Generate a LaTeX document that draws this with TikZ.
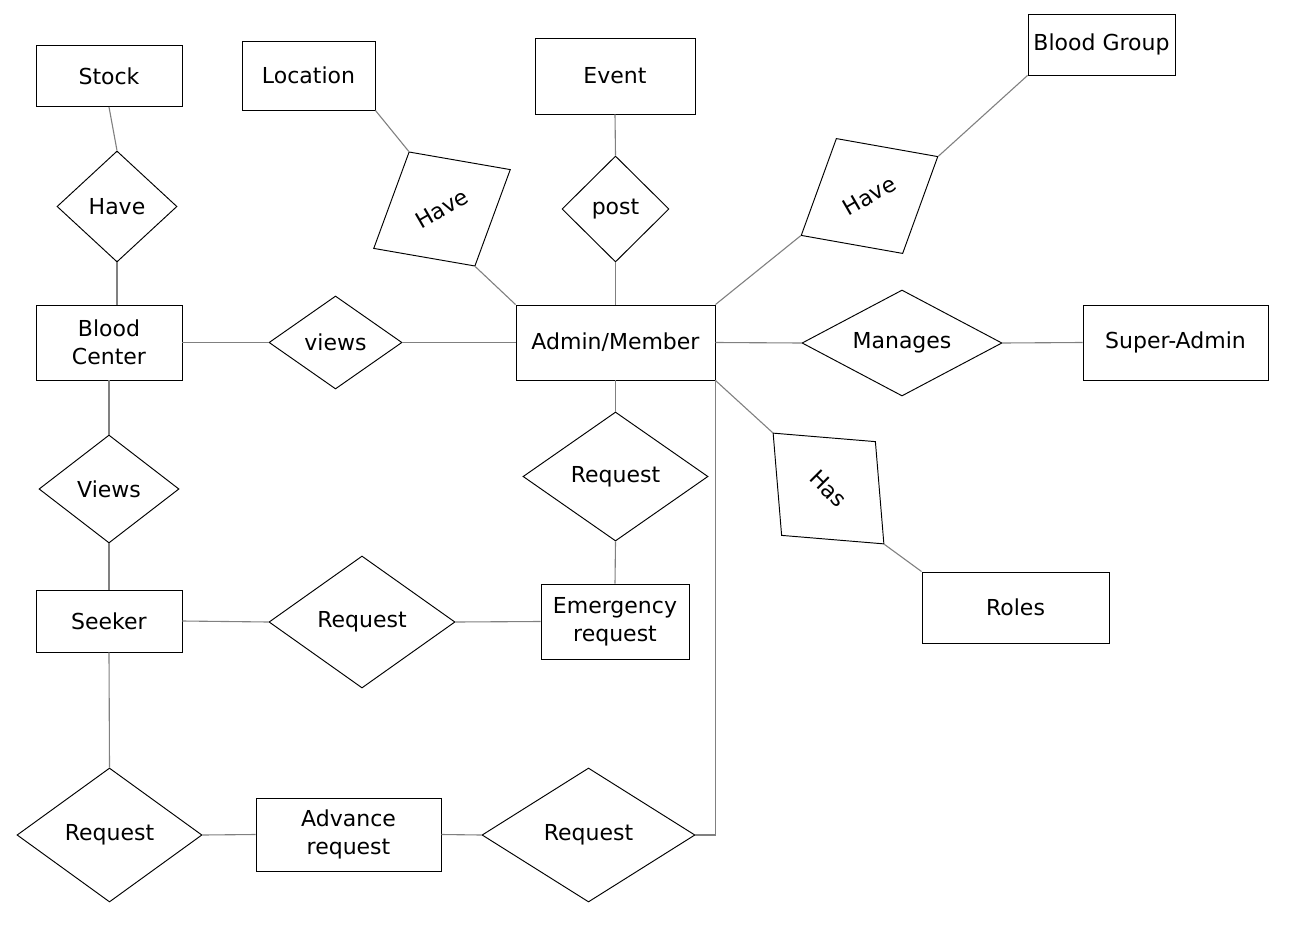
\documentclass[tikz,border=0pt]{standalone}
\usepackage{fontspec}
\setmainfont{DejaVu Sans}
\usetikzlibrary{shapes.geometric}
\definecolor{linkgray}{RGB}{128,128,128}
\tikzset{
  ent/.style={draw=black, line width=0.95pt, rectangle, inner sep=0pt, align=center,
    font=\fontsize{22}{28}\selectfont},
  rel/.style={draw=black, line width=0.95pt, diamond, aspect=2, inner sep=0pt,
    font=\fontsize{22}{28}\selectfont},
  link/.style={draw=linkgray, line width=1.1pt},
}
\begin{document}
\begin{tikzpicture}[x=1pt,y=-1pt]
\useasboundingbox (0,0) rectangle (1297,928);
% entities
\node[ent, minimum width=146, minimum height=61] (stock) at (109,76) {Stock};
\node[ent, minimum width=133, minimum height=69] (loc) at (308.5,75.5) {Location};
\node[ent, minimum width=160, minimum height=76] (event) at (615,76) {Event};
\node[ent, minimum width=147, minimum height=61] (bg) at (1101.5,44.5) {Blood Group};
\node[ent, minimum width=146, minimum height=75] (bc) at (109,342.5) {Blood\\Center};
\node[ent, minimum width=199, minimum height=75] (admin) at (615.5,342.5) {Admin/Member};
\node[ent, minimum width=185, minimum height=75] (sa) at (1175.5,342.5) {Super-Admin};
\node[ent, minimum width=146, minimum height=62] (seeker) at (109,621) {Seeker};
\node[ent, minimum width=148, minimum height=75] (em) at (615,621.5) {Emergency\\request};
\node[ent, minimum width=187, minimum height=71] (roles) at (1015.5,607.5) {Roles};
\node[ent, minimum width=185, minimum height=73] (adv) at (348.5,834.5) {Advance\\request};
% relationships
\node[rel, minimum width=120, minimum height=111] (have1) at (117,206.5) {Have};
\node[rel, minimum width=140, minimum height=108] (views) at (109,489) {Views};
\node[rel, minimum width=133, minimum height=93] (viewsm) at (335.5,342.5) {views};
\node[rel, minimum width=107, minimum height=106, aspect=1] (post) at (615.5,209) {post};
\node[rel, minimum width=158, minimum height=132, rotate=30] (haveL) at (442,209) {Have};
\node[rel, minimum width=158, minimum height=133, rotate=30] (haveBG) at (869.5,196) {Have};
\node[rel, minimum width=157, minimum height=133, rotate=-45] (has) at (828.5,488.5) {Has};
\node[rel, minimum width=200, minimum height=106] (manages) at (902,343) {Manages};
\node[rel, minimum width=185, minimum height=129] (req1) at (615.5,476.5) {Request};
\node[rel, minimum width=186, minimum height=132] (req2) at (362,622) {Request};
\node[rel, minimum width=185, minimum height=134] (req3) at (109.5,835) {Request};
\node[rel, minimum width=213, minimum height=134] (req4) at (588.5,835) {Request};
% connectors
\draw[link] (stock.south) -- (have1.north);
\draw[link] (have1.south) -- (have1.south |- bc.north);
\draw[link] (bc.east) -- (viewsm.west);
\draw[link] (viewsm.east) -- (admin.west);
\draw[link] (bc.south) -- (views.north);
\draw[link] (views.south) -- (seeker.north);
\draw[link] (seeker.east) -- (req2.west);
\draw[link] (req2.east) -- (em.west);
\draw[link] (em.north) -- (req1.south);
\draw[link] (req1.north) -- (admin.south);
\draw[link] (event.south) -- (post.north);
\draw[link] (post.south) -- (admin.north);
\draw[link] (loc.south east) -- (haveL.north);
\draw[link] (haveL.south) -- (admin.north west);
\draw[link] (bg.south west) -- (haveBG.east);
\draw[link] (haveBG.west) -- (admin.north east);
\draw[link] (admin.east) -- (manages.west);
\draw[link] (manages.east) -- (sa.west);
\draw[link] (admin.south east) -- (has.west);
\draw[link] (has.east) -- (roles.north west);
\draw[link] (seeker.south) -- (req3.north);
\draw[link] (req3.east) -- (adv.west);
\draw[link] (adv.east) -- (req4.west);
\draw[link] (req4.east) -| (admin.south east);
\end{tikzpicture}
\end{document}
